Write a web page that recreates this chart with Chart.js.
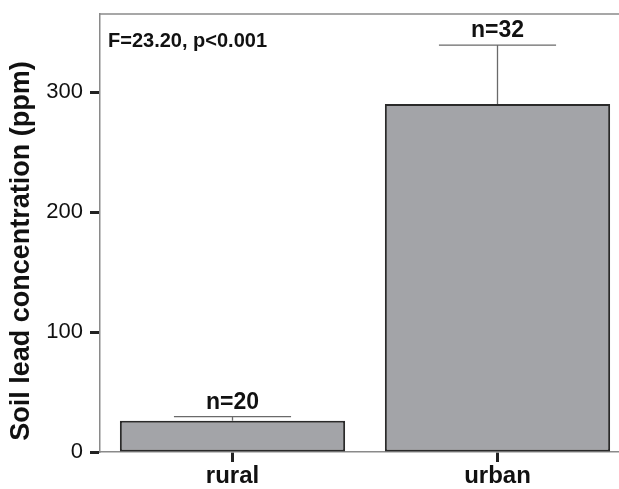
<!DOCTYPE html>
<html>
<head>
<meta charset="utf-8">
<script src="https://cdn.jsdelivr.net/npm/chart.js@4"></script>
<style>
  html, body { margin: 0; padding: 0; overflow: hidden; background: #fff; }
  canvas { display: block; }
</style>
</head>
<body>
<canvas id="leadChart" width="630" height="489"></canvas>
<script>
// data
const categories = ['rural', 'urban'];
const meanLead = [26, 290];
const errorTop = [29.5, 339];
const sampleLabels = ['n=20', 'n=32'];
const yTickValues = [0, 100, 200, 300];
const statText = 'F=23.20, p<0.001';
const yTitle = 'Soil lead concentration (ppm)';

const FONT = "'Liberation Sans', Arial, Helvetica, sans-serif";

// error bars, n labels, stats text, y title and top frame line
const extrasPlugin = {
  id: 'extras',
  afterDatasetsDraw(chart) {
    const ctx = chart.ctx;
    const area = chart.chartArea;
    const y = chart.scales.y;
    const meta = chart.getDatasetMeta(0);

    ctx.save();
    // top frame line
    ctx.strokeStyle = '#8a8a8a';
    ctx.lineWidth = 1.5;
    ctx.beginPath();
    ctx.moveTo(area.left, area.top);
    ctx.lineTo(area.right, area.top);
    ctx.stroke();

    meta.data.forEach(function(bar, i) {
      const yTop = y.getPixelForValue(errorTop[i]);
      const yMean = y.getPixelForValue(meanLead[i]);
      const half = bar.width * 0.26;
      ctx.strokeStyle = '#6a6a6a';
      ctx.lineWidth = 1.3;
      ctx.beginPath();
      ctx.moveTo(bar.x, yMean);
      ctx.lineTo(bar.x, yTop);
      ctx.moveTo(bar.x - half, yTop);
      ctx.lineTo(bar.x + half, yTop);
      ctx.stroke();

      ctx.fillStyle = '#111';
      ctx.font = 'bold 23px ' + FONT;
      ctx.textAlign = 'center';
      ctx.textBaseline = 'alphabetic';
      ctx.fillText(sampleLabels[i], bar.x, yTop - 8);
    });

    ctx.fillStyle = '#111';
    ctx.font = 'bold 20px ' + FONT;
    ctx.textAlign = 'left';
    ctx.textBaseline = 'alphabetic';
    ctx.fillText(statText, area.left + 8, area.top + 33);

    // y axis title
    ctx.translate(22, 251);
    ctx.rotate(-Math.PI / 2);
    ctx.font = 'bold 27px ' + FONT;
    ctx.textAlign = 'center';
    ctx.textBaseline = 'middle';
    ctx.fillText(yTitle, 0, 0);
    ctx.restore();
  }
};

const ctx = document.getElementById('leadChart').getContext('2d');

new Chart(ctx, {
  type: 'bar',
  data: {
    labels: categories,
    datasets: [{
      data: meanLead,
      backgroundColor: '#a3a4a8',
      borderColor: '#2a2a2a',
      borderWidth: 2,
      borderSkipped: false,
      barPercentage: 0.85,
      categoryPercentage: 1.0
    }]
  },
  options: {
    responsive: false,
    animation: false,
    layout: { padding: { top: 14, left: 0, right: 0, bottom: 0 } },
    plugins: {
      legend: { display: false },
      tooltip: { enabled: false }
    },
    scales: {
      x: {
        offset: true,
        afterFit: function(scale) {
          scale.height = 37;
          scale.paddingLeft = 0;
          scale.paddingRight = 0;
        },
        border: { display: true, color: '#8a8a8a', width: 1.5 },
        grid: {
          display: true,
          drawOnChartArea: false,
          drawTicks: true,
          tickLength: 10,
          tickWidth: 3,
          tickColor: '#222',
          offset: false
        },
        ticks: {
          color: '#111',
          padding: 0,
          font: { family: FONT, size: 24, weight: 'bold' }
        }
      },
      y: {
        min: 0,
        max: 365,
        afterFit: function(scale) {
          scale.width = 100;
          scale.paddingTop = 0;
          scale.paddingBottom = 0;
        },
        afterBuildTicks: function(scale) {
          scale.ticks = yTickValues.map(function(v) { return { value: v }; });
        },
        border: { display: true, color: '#8a8a8a', width: 1.5 },
        grid: {
          display: true,
          drawOnChartArea: false,
          drawTicks: true,
          tickLength: 10,
          tickWidth: 3,
          tickColor: '#222'
        },
        ticks: {
          color: '#111',
          padding: 7,
          font: { family: FONT, size: 22 }
        }
      }
    }
  },
  plugins: [extrasPlugin]
});
</script>
</body>
</html>
